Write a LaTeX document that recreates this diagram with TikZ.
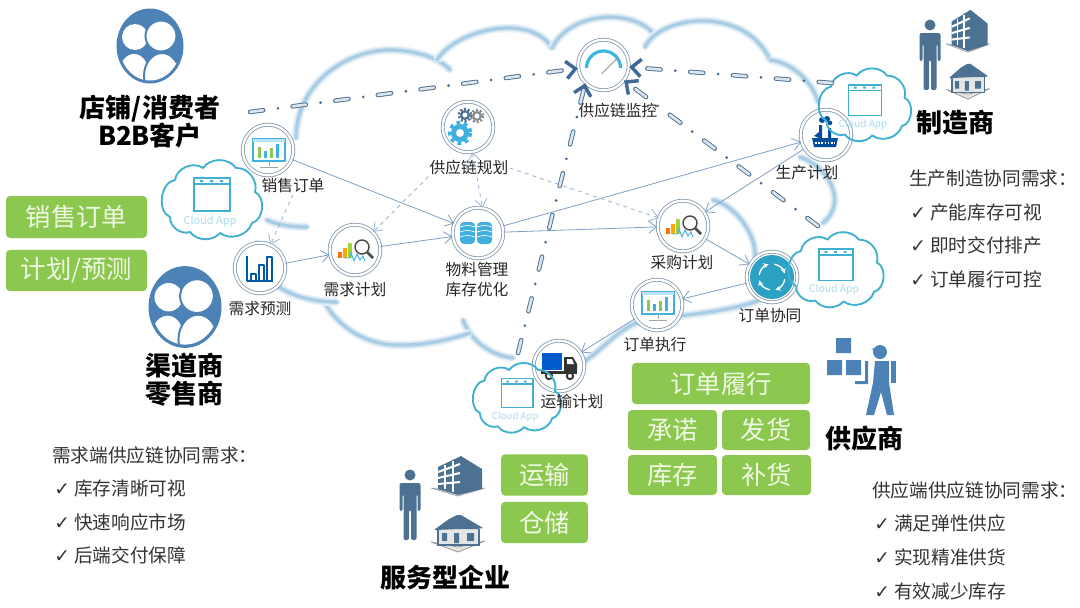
\documentclass[tikz,border=0pt]{standalone}
\usepackage{fontspec}
\setmainfont{Noto Sans CJK SC}
\newfontfamily\symfont{DejaVu Sans}
\usetikzlibrary{arrows.meta}

\definecolor{leafgreen}{HTML}{8CC84F}
\definecolor{leaftext}{HTML}{F0F8E4}
\definecolor{ringblue}{HTML}{8499AE}
\definecolor{flowblue}{HTML}{7F9FC4}
\definecolor{linkblue}{HTML}{3F6A98}
\definecolor{linkfill}{HTML}{DCE4EE}
\definecolor{steelblue}{HTML}{4C82B5}
\definecolor{slateblue}{HTML}{4D7191}
\definecolor{cloudteal}{HTML}{3FB0CF}
\definecolor{cloudtext}{HTML}{A9DAEA}
\definecolor{skyblue}{HTML}{3FB0E0}
\definecolor{cloudfog}{HTML}{A9CDE4}

\tikzset{
  glyph/.style={transform shape},
  hub/.style={circle,draw=ringblue,fill=white,line width=0.6pt,double=white,double distance=1.7pt,minimum size=38pt,inner sep=0pt},
  hubtext/.style={font=\fontsize{11.8}{15}\selectfont,text=black!85,align=center,inner sep=0.75pt},
  headtext/.style={font=\fontsize{19.5}{21}\selectfont\bfseries,text=black,align=center,inner sep=0.75pt},
  needtext/.style={font=\fontsize{14}{16}\selectfont,text=black!80,anchor=west,inner sep=0pt},
  greenbox/.style 2 args={rounded corners=3pt,fill=leafgreen,text=leaftext,font=\fontsize{19}{21}\selectfont,minimum width=#1,minimum height=#2,inner sep=0pt},
  flow/.style={draw=flowblue,line width=0.6pt,-{Straight Barb[length=6pt,width=9pt]}},
  flowdash/.style={draw=flowblue!80,line width=0.6pt,dashed,-{Straight Barb[length=6pt,width=9pt]}},
  dashlink/.style={draw=slateblue,line width=0.7pt,double=linkfill,double distance=2pt,line cap=round,dash pattern=on 10pt off 22.25pt},
  dotlink/.style={draw=linkblue,line width=2.2pt,line cap=round,dash pattern=on 0pt off 32.25pt,dash phase=11.1pt,-{Straight Barb[length=7pt,width=13pt,line width=2.6pt]}},
  fuzzline/.style={draw=cloudfog!50!white,line width=4.4pt,line cap=round,
    preaction={draw=cloudfog!25!white,line width=6.4pt},
    postaction={draw=cloudfog,line width=2.4pt}},
  pics/cloudapp/.style={code={
    \draw[cloudteal,line width=1.4pt,line join=round] (-42,16) to[bend right=75] (-37,-21) to[bend right=60] (-9,-33)
      to[bend right=55] (24,-33) to[bend right=55] (43,-9) to[bend right=70] (40,22)
      to[bend right=55] (8,32) to[bend right=50] (-22,31) to[bend right=55] (-42,16);
    \draw[cloudteal,line width=1pt] (-18,-23) rectangle (18,10);
    \draw[cloudteal,line width=1pt] (-18,-17) -- (18,-17);
    \fill[cloudteal] (-12,-21) rectangle (-9,-19) (-2,-21) rectangle (1,-19) (8,-21) rectangle (11,-19);
    \node (-name) [yscale=-1,text=cloudtext,font=\fontsize{8.2}{9}\selectfont,inner sep=0pt] at (-2,20) {Cloud App};
  }},
  pics/crowd/.style={code={
    \fill[steelblue] (0,0) ellipse (33.5 and 37.5);
    \begin{scope}
      \clip (0,0) ellipse (30.5 and 34.5);
      \fill[white] (-15,-9) circle (13);
      \fill[white] (-16,25) ellipse (14 and 17);
      \draw[steelblue,line width=1.5pt,fill=white] (11,-10) circle (15.5);
      \draw[steelblue,line width=1.5pt,fill=white] (12,30) ellipse (18 and 23);
    \end{scope}
  }},
  pics/person/.style={code={
    \fill[slateblue] (0,-30) circle (5.5);
    \fill[slateblue,rounded corners=1.5pt] (-10.5,-22) -- (10.5,-22) -- (10.5,6) -- (7.5,6) -- (7.5,-11) -- (6.5,-11) -- (6.5,35)
      -- (1,35) -- (1,5) -- (-1,5) -- (-1,35) -- (-6.5,35) -- (-6.5,-11) -- (-7.5,-11) -- (-7.5,6) -- (-10.5,6) -- cycle;
  }},
  pics/tower/.style={code={
    \draw[black!35,line width=0.6pt,fill=black!8] (-27,13) -- (0,21) -- (27,13) -- (0,17) -- cycle;
    \fill[slateblue] (-20,-8) -- (3,-19) -- (24,-6) -- (24,14) -- (0,20) -- (-20,14) -- cycle;
    \draw[white,line width=1.5pt] (-20,-3) -- (2,-11) (-20,3) -- (2,-2) (-20,9) -- (2,7);
    \draw[white,line width=1.2pt] (-13,-10) -- (-13,14) (-5,-14) -- (-5,17);
  }},
  pics/cottage/.style={code={
    \draw[black!40,line width=0.6pt,fill=black!10] (-27,9) -- (0,19) -- (27,8) -- (0,14) -- cycle;
    \fill[black!10] (-20,-5) rectangle (21,12);
    \fill[slateblue] (-24,-3) -- (-9,-14) -- (-1,-18) -- (3,-18) -- (25,-5) -- (19,-4) -- (3,-4) -- cycle;
    \fill[slateblue] (-16,0) rectangle (-11,8) (-4,0) rectangle (1,10) (9,0) rectangle (16,8);
    \draw[slateblue,line width=0.8pt] (-20,-4) -- (-20,12) -- (21,12) -- (21,-4);
  }},
  pics/screenicon/.style={code={
    \draw[skyblue,line width=1.2pt,fill=white] (-15,-13) rectangle (17,9);
    \fill[skyblue!35] (-15,-13) rectangle (17,-10);
    \fill[leafgreen] (-10,6) rectangle (-7,-5);
    \fill[skyblue] (-4,6) rectangle (-1,-1);
    \fill[leafgreen] (2,6) rectangle (5,-4);
    \fill[skyblue] (8,6) rectangle (11,-8);
    \draw[black!35,line width=0.6pt] (1,9) -- (1,14) (-8,15) -- (10,15);
  }},
  pics/barsicon/.style={code={
    \draw[teal!70!blue,line width=1.1pt,line join=round] (-13,-12) -- (-13,13) -- (13,13)
      (-9,13) -- (-9,6) -- (-4,6) -- (-4,13) (-1,13) -- (-1,-3) -- (4,-3) -- (4,13) (7,13) -- (7,-11) -- (12,-11) -- (12,13);
  }},
  pics/lensicon/.style={code={
    \fill[orange!90!red] (-17,2) rectangle (-13,8);
    \fill[orange!70!yellow] (-12,-2) rectangle (-8,8);
    \fill[leafgreen!80!yellow] (-7,-7) rectangle (-3,8);
    \draw[skyblue,line width=0.7pt] (-11,8) -- (-6,8) -- (-4,3) -- (-1,11) -- (2,4) -- (5,10) -- (8,6) -- (10,11);
    \draw[black!70,line width=1.1pt] (7,-3) circle (7);
    \draw[black!70,line width=2pt] (12,2) -- (18,8);
  }},
  pics/gearicon/.style={code={
    \fill[skyblue] (-8,6) circle (9);
    \draw[skyblue,line width=2.6pt,dash pattern=on 2.8pt off 2.9pt] (-8,6) circle (10.5);
    \fill[white] (-8,6) circle (4);
    \fill[slateblue] (-3,-12) circle (5);
    \draw[slateblue,line width=1.8pt,dash pattern=on 1.5pt off 1.4pt] (-3,-12) circle (6);
    \fill[white] (-3,-12) circle (2.5);
    \fill[black!45] (9,-11) circle (5);
    \draw[black!45,line width=1.8pt,dash pattern=on 1.5pt off 1.4pt] (9,-11) circle (6);
    \fill[white] (9,-11) circle (2.5);
  }},
  pics/storeicon/.style={code={
    \foreach \cx in {-10.5,6.5} {
      \fill[skyblue,rounded corners=3pt] (\cx-7.5,-11) rectangle (\cx+7.5,11);
      \draw[white,line width=0.5pt] (\cx-7.5,-6) to[bend right=20] (\cx+7.5,-6) (\cx-7.5,-1) to[bend right=20] (\cx+7.5,-1) (\cx-7.5,4) to[bend right=20] (\cx+7.5,4);
    }
  }},
  pics/dialicon/.style={code={
    \draw[skyblue!90!cyan,line width=2.4pt] (-17,3) arc (180:360:17);
    \draw[black!40,line width=0.7pt] (-2,9) -- (15,-8);
  }},
  pics/plantcon/.style={code={
    \fill[blue!45!black!70!cyan] (-14,3) -- (12,3) -- (10,12) -- (-12,12) -- cycle;
    \fill[blue!45!black!70!cyan] (-7,-10) rectangle (-4,4) (2,-7) rectangle (5,4) (-12,1) -- (-7,-3) -- (-7,3) -- cycle;
    \fill[blue!45!black!70!cyan] (-4,-15) circle (3) (1,-16) circle (3) (4,-12) circle (2.2);
    \draw[white,line width=1pt,dash pattern=on 1.2pt off 1.2pt] (-11,8) -- (9,8);
  }},
  pics/cycleicon/.style={code={
    \fill[skyblue!70!teal] (0,0) circle (22);
    \foreach \a in {-80,10,100,190} {
      \draw[white,line width=1pt,-{Stealth[length=4pt,width=4pt]}] ({13*cos(\a)},{13*sin(\a)}) arc (\a:\a+65:13);
    }
  }},
  pics/truckicon/.style={code={
    \fill[blue!55!cyan!80!black] (-17,-13) rectangle (3,4);
    \fill[black!80] (5,-9) -- (14,-9) -- (18,-2) -- (18,5) -- (5,5) -- cycle;
    \fill[white] (8,-7) -- (13,-7) -- (15,-2) -- (8,-2) -- cycle;
    \fill[black!80] (-18,5) rectangle (18,8);
    \draw[black!80,line width=1.4pt,fill=white] (-10,10) circle (3.2) (11,10) circle (3.2);
  }},
}

\newcommand{\chainlink}[2]{
  \draw[dashlink] (#1) -- (#2);
  \draw[dotlink] (#1) -- (#2);
}

\begin{document}
\begin{tikzpicture}[x=0.75pt,y=0.75pt,yscale=-1,xscale=1]
    \useasboundingbox (0,0) rectangle (1080,607);

    % Background cloud
    \draw[fuzzline] (296,138) .. controls (296,85) and (345,50) .. (390,50) .. controls (415,50) and (440,58) .. (450,70);
    \draw[fuzzline] (437,60) .. controls (455,30) and (530,12) .. (552,48);
    \draw[fuzzline] (552,48) .. controls (570,12) and (630,8) .. (653,33);
    \draw[fuzzline] (645,47) .. controls (660,15) and (745,5) .. (770,60);
    \draw[fuzzline] (770,60) .. controls (790,62) and (812,80) .. (818,102);
    \draw[fuzzline] (800,157) .. controls (825,165) and (850,200) .. (823,223);
    \draw[fuzzline] (713,200) .. controls (735,205) and (757,235) .. (755,257);
    \draw[fuzzline] (760,300) .. controls (720,315) and (665,315) .. (637,323) .. controls (620,328) and (600,352) .. (583,362);
    \draw[fuzzline] (463,320) .. controls (470,340) and (490,355) .. (513,358);
    \draw[fuzzline] (325,303) .. controls (340,330) and (370,345) .. (397,345) .. controls (420,346) and (450,340) .. (470,333);
    \draw[fuzzline] (267,220) .. controls (280,226) and (295,227) .. (307,227);
    \draw[fuzzline] (257,243) .. controls (250,270) and (280,302) .. (337,302);

    % Hub circles
    \node (sales) [hub] at (268,150) {};
    \node (forecast) [hub] at (260,268) {};
    \node (demand) [hub] at (355,250) {};
    \node (material) [hub] at (478,233) {};
    \node (planning) [hub] at (468,127) {};
    \node (monitor) [hub] at (603.5,65) {};
    \node (purchase) [hub] at (683,226) {};
    \node (production) [hub] at (826,135) {};
    \node (ordersync) [hub] at (772,277) {};
    \node (execution) [hub] at (657,305) {};
    \node (transport) [hub] at (559,366) {};

    % Hub icons
    \pic [glyph] at (268,152) {screenicon};
    \pic [glyph] at (260,268) {barsicon};
    \pic [glyph] at (355,250) {lensicon};
    \pic [glyph] at (478,233) {storeicon};
    \pic [glyph] at (468,127) {gearicon};
    \pic [glyph] at (603.5,65) {dialicon};
    \pic [glyph] at (683,226) {lensicon};
    \pic [glyph] at (826,135) {plantcon};
    \pic [glyph] at (772,277) {cycleicon};
    \pic [glyph] at (657,305) {screenicon};
    \pic [glyph] at (559,366) {truckicon};

    % Cloud apps
    \pic (appa) [glyph] at (212,201) {cloudapp};
    \pic (appb) [glyph,scale=0.92] at (865,106) {cloudapp};
    \pic (appc) [glyph,scale=0.95] at (836,271) {cloudapp};
    \pic (appd) [glyph,scale=0.88] at (517,399) {cloudapp};

    % Text Node
    \node (saleslabel) [hubtext] at (293,186) {销售订单};
    \node (forecastlabel) [hubtext] at (260,309) {需求预测};
    \node (demandlabel) [hubtext] at (355,290) {需求计划};
    \node (materiallabel) [hubtext] at (477,280) {物料管理\\库存优化};
    \node (planninglabel) [hubtext] at (469,168) {供应链规划};
    \node (monitorlabel) [hubtext] at (618,111) {供应链监控};
    \node (purchaselabel) [hubtext] at (682,263) {采购计划};
    \node (productionlabel) [hubtext] at (807,173) {生产计划};
    \node (ordersynclabel) [hubtext] at (770,316) {订单协同};
    \node (executionlabel) [hubtext] at (655,345) {订单执行};
    \node (transportlabel) [hubtext] at (572,402) {运输计划};

    % Flows
    \draw[flow] (sales) -- (material);
    \draw[flow] (forecast) -- (demand);
    \draw[flow] (demand) -- (material);
    \draw[flow] (material) -- (purchase);
    \draw[flow] (material) -- (production);
    \draw[flow] (production) -- (purchase);
    \draw[flow] (purchase) -- (ordersync);
    \draw[flow] (ordersync) -- (execution);
    \draw[flow] (execution) -- (transport);
    \draw[flowdash] (saleslabel.south) -- (forecast);
    \draw[flowdash] (planninglabel.south west) -- (demand);
    \draw[flowdash] (planninglabel.east) -- (purchase);
    \draw[flowdash,{Straight Barb[length=6pt,width=9pt]}-{Straight Barb[length=6pt,width=9pt]}] (planning.-80) -- (material.80);

    % Monitoring links
    \coordinate (buyerend) at (250,112);
    \coordinate (makerend) at (832,83);
    \coordinate (supplierend) at (818,226);
    \coordinate (carrierend) at (518,353);
    \chainlink{buyerend}{monitor}
    \chainlink{makerend}{monitor}
    \chainlink{supplierend}{monitor.-37}
    \chainlink{carrierend}{monitor.-135}

    % Actors
    \pic [glyph,scale=1] at (150,46) {crowd};
    \pic [glyph,scale=1.09] at (185,307) {crowd};
    \pic [glyph] at (930,55) {person};
    \pic [glyph,xscale=0.82,yscale=1.06] at (968,30) {tower};
    \pic [glyph,xscale=0.8,yscale=0.95] at (968,81) {cottage};
    \pic [glyph] at (410,505) {person};
    \pic [glyph] at (458,475) {tower};
    \pic [glyph] at (458,533) {cottage};

    % Supplier figure
    \fill[steelblue] (836,338) rectangle (851,353) (827,360) rectangle (842,375) (846,360) rectangle (861,375);
    \fill[steelblue] (880,352) circle (7);
    \fill[steelblue] (871,349) -- (880,347) -- (880,352) -- cycle;
    \fill[steelblue] (875,361) -- (889,361) -- (889,383) -- (894,415) -- (887,415) -- (881,392) -- (874,415) -- (866,415) -- (873,383) -- cycle;
    \fill[steelblue] (891,361) rectangle (896,383);
    \fill[steelblue] (865,361) -- (868,361) -- (868,384) -- (855,384) -- (855,381) -- (865,381) -- cycle;

    % Headings
    \node (buyerhead) [headtext] at (150,122) {店铺/消费者\\B2B客户};
    \node (channelhead) [headtext] at (184,380) {渠道商\\零售商};
    \node (makerhead) [headtext] at (955,123) {制造商};
    \node (supplierhead) [headtext] at (864,439) {供应商};
    \node (servicehead) [headtext] at (445,578) {服务型企业};

    % Green boxes
    \node (boxsales) [greenbox={105.75pt}{31.5pt}] at (76.5,217) {销售订单};
    \node (boxplan) [greenbox={105.75pt}{31pt}] at (76.5,270.5) {计划/预测};
    \node (boxfulfil) [greenbox={133.5pt}{31pt}] at (721,383.5) {订单履行};
    \node (boxpromise) [greenbox={66.75pt}{30pt}] at (672.5,430) {承诺};
    \node (boxship) [greenbox={66pt}{30pt}] at (766,430) {发货};
    \node (boxstock) [greenbox={66.75pt}{30pt}] at (672.5,475) {库存};
    \node (boxrefill) [greenbox={66.75pt}{30pt}] at (766.5,475) {补货};
    \node (boxcarry) [greenbox={65pt}{31pt}] at (544.5,475) {运输};
    \node (boxstore) [greenbox={65pt}{31pt}] at (544.5,522.5) {仓储};

    % Needs lists
    \node (makerneed) [needtext] at (909,178) {生产制造协同需求：};
    \node (makerone) [needtext] at (910,212) {\makebox[15pt][l]{\symfont ✓}产能库存可视};
    \node (makertwo) [needtext] at (910,245) {\makebox[15pt][l]{\symfont ✓}即时交付排产};
    \node (makerthree) [needtext] at (910,279) {\makebox[15pt][l]{\symfont ✓}订单履行可控};
    \node (buyerneed) [needtext] at (52,455) {需求端供应链协同需求：};
    \node (buyerone) [needtext] at (54,488) {\makebox[15pt][l]{\symfont ✓}库存清晰可视};
    \node (buyertwo) [needtext] at (54,522) {\makebox[15pt][l]{\symfont ✓}快速响应市场};
    \node (buyerthree) [needtext] at (54,555) {\makebox[15pt][l]{\symfont ✓}后端交付保障};
    \node (supplyneed) [needtext] at (872,490) {供应端供应链协同需求：};
    \node (supplyone) [needtext] at (874,523) {\makebox[15pt][l]{\symfont ✓}满足弹性供应};
    \node (supplytwo) [needtext] at (874,557) {\makebox[15pt][l]{\symfont ✓}实现精准供货};
    \node (supplythree) [needtext] at (874,591) {\makebox[15pt][l]{\symfont ✓}有效减少库存};

\end{tikzpicture}
\end{document}
